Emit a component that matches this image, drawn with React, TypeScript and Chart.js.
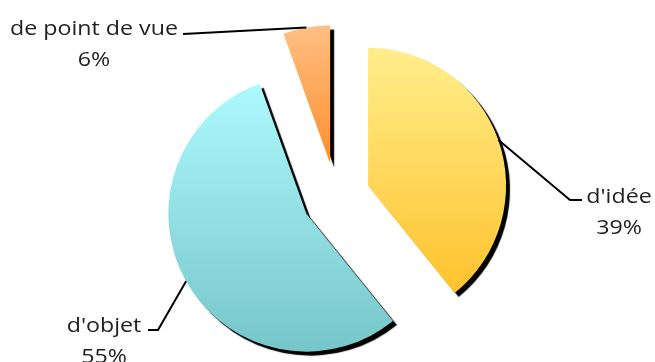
import React, { useEffect, useRef } from "react";
import { Chart, registerables } from "chart.js";

Chart.register(...registerables);

const categories = ["d'idée", "d'objet", "de point de vue"];
const values = [39.2, 55.3, 5.5];
const gradientTop = ["#FFEE8C", "#ADFAFE", "#FFBF84"];
const gradientBottom = ["#FFC22E", "#76C5C9", "#FF8E2C"];

const EXPLODE = 34;
const RADIUS = 138;
const LABEL_FONT = '20px "Open Sans"';
const TEXT_STRETCH = 1.16;
const LINE_GAP = 31;

// label anchors (baseline of first line) and leader-line bend points
const labelAnchors = [
  { x: 619, y: 203, path: [[570, 200], [582, 200]] },
  { x: 104, y: 332, path: [[158, 330], [148, 330]] },
  { x: 94, y: 35, path: [[183, 34]] },
];

function drawStretched(ctx: CanvasRenderingContext2D, text: string, x: number, y: number) {
  ctx.save();
  ctx.translate(x, y);
  ctx.scale(TEXT_STRETCH, 1);
  ctx.fillText(text, 0, 0);
  ctx.restore();
}

const piePlugin = {
  id: "explodedPie",
  afterDatasetsUpdate(chart: any) {
    const meta = chart.getDatasetMeta(0);
    meta.data.forEach((arc: any) => {
      const mid = (arc.startAngle + arc.endAngle) / 2;
      arc.x += Math.cos(mid) * EXPLODE;
      arc.y += Math.sin(mid) * EXPLODE;
    });
  },
  beforeDatasetsDraw(chart: any) {
    const ctx = chart.ctx as CanvasRenderingContext2D;
    const meta = chart.getDatasetMeta(0);
    meta.data.forEach((arc: any, i: number) => {
      let ymin = arc.y;
      let ymax = arc.y;
      for (let k = 0; k <= 90; k++) {
        const a = arc.startAngle + ((arc.endAngle - arc.startAngle) * k) / 90;
        const y = arc.y + Math.sin(a) * arc.outerRadius;
        ymin = Math.min(ymin, y);
        ymax = Math.max(ymax, y);
      }
      const g = ctx.createLinearGradient(0, ymin, 0, ymax);
      g.addColorStop(0, gradientTop[i]);
      g.addColorStop(1, gradientBottom[i]);
      arc.options = Object.assign({}, arc.options, { backgroundColor: g });
    });
    ctx.save();
    ctx.shadowColor = "#000";
    ctx.shadowOffsetX = 4;
    ctx.shadowOffsetY = 4;
    ctx.shadowBlur = 1;
  },
  afterDatasetsDraw(chart: any) {
    const ctx = chart.ctx as CanvasRenderingContext2D;
    ctx.restore();
    const meta = chart.getDatasetMeta(0);
    const total = values.reduce((a, b) => a + b, 0);
    ctx.save();
    ctx.strokeStyle = "#000";
    ctx.lineWidth = 2;
    ctx.fillStyle = "#222";
    ctx.font = LABEL_FONT;
    ctx.textAlign = "center";
    ctx.textBaseline = "alphabetic";
    meta.data.forEach((arc: any, i: number) => {
      const mid = (arc.startAngle + arc.endAngle) / 2;
      const sx = arc.x + Math.cos(mid) * arc.outerRadius;
      const sy = arc.y + Math.sin(mid) * arc.outerRadius;
      const anchor = labelAnchors[i];
      ctx.beginPath();
      ctx.moveTo(sx, sy);
      anchor.path.forEach((p) => ctx.lineTo(p[0], p[1]));
      ctx.stroke();
      const pct = Math.round((values[i] / total) * 100) + "%";
      drawStretched(ctx, categories[i], anchor.x, anchor.y);
      drawStretched(ctx, pct, anchor.x, anchor.y + LINE_GAP);
    });
    ctx.restore();
  },
};

export default function App() {
  const canvasRef = useRef<HTMLCanvasElement | null>(null);

  useEffect(() => {
    if (!canvasRef.current) return;
    const chart = new Chart(canvasRef.current, {
      type: "pie",
      data: {
        labels: categories,
        datasets: [
          {
            data: values,
            backgroundColor: gradientBottom.slice(),
            borderWidth: 0,
          },
        ],
      },
      options: {
        responsive: false,
        animation: false,
        events: [],
        radius: RADIUS,
        layout: { padding: { left: 17, top: 32, right: 0, bottom: 0 } },
        plugins: {
          legend: { display: false },
          tooltip: { enabled: false },
          title: { display: false },
        },
      } as any,
      plugins: [piePlugin],
    });
    return () => chart.destroy();
  }, []);

  return (
    <div style={{ position: "absolute", left: 0, top: 0, width: 655, height: 362, background: "#fff" }}>
      <canvas ref={canvasRef} width={655} height={362} style={{ display: "block" }} />
    </div>
  );
}
